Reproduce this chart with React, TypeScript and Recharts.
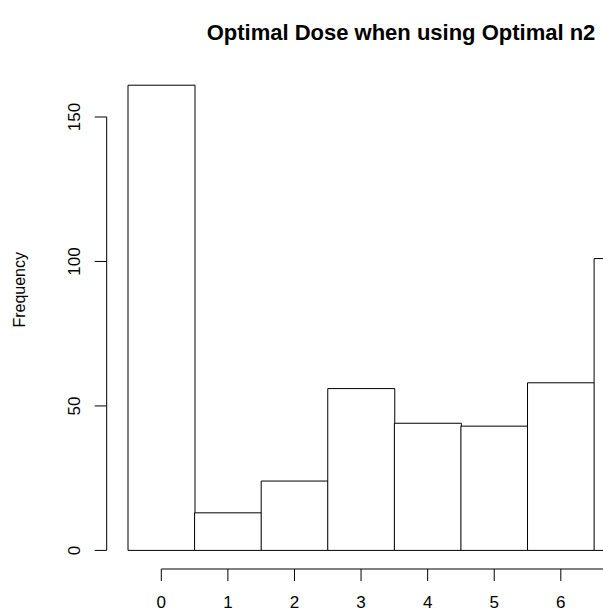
import { ComposedChart, Bar, XAxis, YAxis, ReferenceLine, Label } from 'recharts';

// histogram of optimal doses (bins centred on whole numbers, width 1)
const doses = [0, 1, 2, 3, 4, 5, 6, 7];
const frequencies = [161, 13, 24, 56, 44, 43, 58, 101];
const yTicks = [0, 50, 100, 150];
// the 7 tick sits past the right edge of the picture
const xTicks = [0, 1, 2, 3, 4, 5, 6];

const FONT = '"Liberation Sans", Arial, Helvetica, sans-serif';

const rows = doses.map((d, i) => ({ dose: d, freq: frequencies[i] }));

// R-style padding of 4% on each side of the data range
const xMin = doses[0] - 0.5;
const xMax = doses[doses.length - 1] + 0.5;
const xPad = (xMax - xMin) * 0.04;
const yMax = Math.max(...frequencies);
const yPad = yMax * 0.04;

function YTick(props: any) {
  const { x, y, payload } = props;
  const tx = x - 15;
  return (
    <text
      x={tx}
      y={y}
      transform={`rotate(-90, ${tx}, ${y})`}
      textAnchor="middle"
      fontSize={17}
      fontFamily={FONT}
      fill="#000"
    >
      {payload.value}
    </text>
  );
}

export default function App() {
  return (
    <div
      style={{
        position: 'fixed',
        left: 0,
        top: 0,
        width: 603,
        height: 615,
        overflow: 'hidden',
        background: '#fff',
      }}
    >
      <div
        style={{
          position: 'absolute',
          left: 0,
          top: 20,
          width: 802,
          textAlign: 'center',
          fontFamily: FONT,
          fontWeight: 'bold',
          fontSize: 22,
          lineHeight: '26px',
        }}
      >
        Optimal Dose when using Optimal n2
      </div>
      <ComposedChart
        width={700}
        height={615}
        data={rows}
        margin={{ top: 66.6, right: 18, bottom: 0, left: 0 }}
        barCategoryGap={0}
        barGap={0}
      >
        <XAxis
          dataKey="dose"
          type="number"
          domain={[xMin - xPad, xMax + xPad]}
          ticks={xTicks}
          allowDataOverflow
          height={46}
          axisLine={false}
          tickSize={12}
          tickMargin={15}
          tickLine={{ stroke: '#000' }}
          tick={{ fill: '#000', fontSize: 17, fontFamily: FONT }}
        />
        <YAxis
          type="number"
          domain={[-yPad, yMax + yPad]}
          ticks={yTicks}
          allowDataOverflow
          width={106.7}
          axisLine={false}
          tickSize={12}
          tickMargin={0}
          tickLine={{ stroke: '#000' }}
          tick={<YTick />}
        >
          <Label
            value="Frequency"
            angle={-90}
            position="insideLeft"
            offset={19}
            dy={-28}
            style={{ fontSize: 16, fontFamily: FONT, fill: '#000', textAnchor: 'middle' }}
          />
        </YAxis>
        <Bar dataKey="freq" fill="#fff" stroke="#000" strokeWidth={1} isAnimationActive={false} />
        <ReferenceLine
          segment={[
            { x: doses[0], y: -yPad },
            { x: doses[doses.length - 1], y: -yPad },
          ]}
          stroke="#000"
          ifOverflow="visible"
        />
        <ReferenceLine
          segment={[
            { x: xMin - xPad, y: yTicks[0] },
            { x: xMin - xPad, y: yTicks[yTicks.length - 1] },
          ]}
          stroke="#000"
          ifOverflow="visible"
        />
      </ComposedChart>
    </div>
  );
}
